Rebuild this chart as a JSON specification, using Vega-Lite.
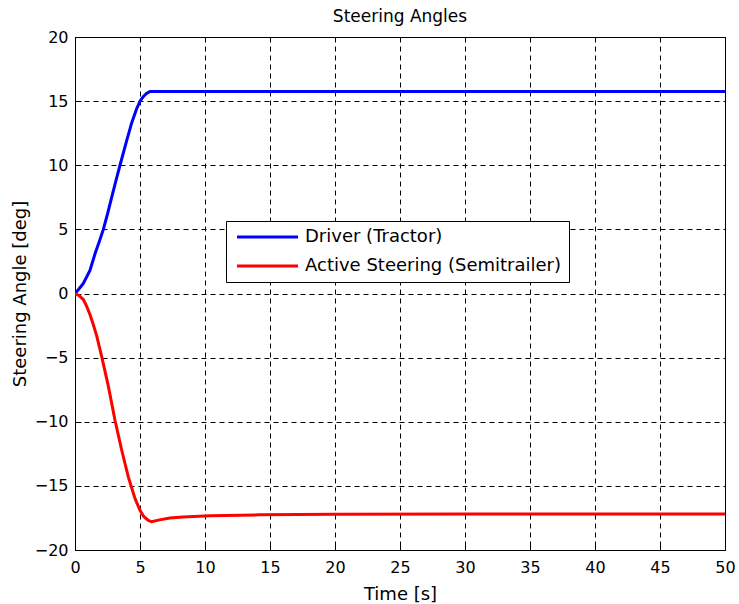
{
  "$schema": "https://vega.github.io/schema/vega-lite/v6.json",
  "autosize": {"type": "none"},
  "padding": {"left": 75, "top": 37, "right": 14, "bottom": 54},
  "width": 650,
  "height": 513,
  "background": "white",
  "title": {
    "text": "Steering Angles",
    "font": "DejaVu Sans",
    "fontSize": 17,
    "fontWeight": "normal",
    "color": "black",
    "offset": 3
  },
  "config": {
    "view": {"stroke": "black", "strokeWidth": 1},
    "axis": {
      "domainColor": "black",
      "domainWidth": 1,
      "grid": true,
      "gridColor": "black",
      "gridOpacity": 1,
      "gridDash": [5, 4],
      "gridWidth": 1,
      "tickColor": "black",
      "tickSize": -6,
      "labelFlush": false,
      "labelFont": "DejaVu Sans",
      "labelFontSize": 16,
      "labelColor": "black",
      "titleFont": "DejaVu Sans",
      "titleFontSize": 18,
      "titleFontWeight": "normal",
      "titleColor": "black"
    }
  },
  "data": {
    "values": [
      {"series": "Driver (Tractor)", "t": 0, "angle": 0},
      {"series": "Driver (Tractor)", "t": 0.3, "angle": 0.35},
      {"series": "Driver (Tractor)", "t": 0.64, "angle": 0.78},
      {"series": "Driver (Tractor)", "t": 1.15, "angle": 1.8},
      {"series": "Driver (Tractor)", "t": 1.54, "angle": 3.1},
      {"series": "Driver (Tractor)", "t": 1.85, "angle": 4.0},
      {"series": "Driver (Tractor)", "t": 2.18, "angle": 5.0},
      {"series": "Driver (Tractor)", "t": 2.5, "angle": 6.2},
      {"series": "Driver (Tractor)", "t": 2.82, "angle": 7.5},
      {"series": "Driver (Tractor)", "t": 3.15, "angle": 8.8},
      {"series": "Driver (Tractor)", "t": 3.46, "angle": 10.0},
      {"series": "Driver (Tractor)", "t": 3.97, "angle": 11.9},
      {"series": "Driver (Tractor)", "t": 4.36, "angle": 13.3},
      {"series": "Driver (Tractor)", "t": 4.74, "angle": 14.4},
      {"series": "Driver (Tractor)", "t": 5.0, "angle": 15.0},
      {"series": "Driver (Tractor)", "t": 5.25, "angle": 15.35},
      {"series": "Driver (Tractor)", "t": 5.5, "angle": 15.6},
      {"series": "Driver (Tractor)", "t": 5.77, "angle": 15.76},
      {"series": "Driver (Tractor)", "t": 10, "angle": 15.76},
      {"series": "Driver (Tractor)", "t": 20, "angle": 15.76},
      {"series": "Driver (Tractor)", "t": 30, "angle": 15.76},
      {"series": "Driver (Tractor)", "t": 40, "angle": 15.76},
      {"series": "Driver (Tractor)", "t": 50, "angle": 15.76},
      {"series": "Active Steering (Semitrailer)", "t": 0, "angle": 0},
      {"series": "Active Steering (Semitrailer)", "t": 0.3, "angle": -0.15},
      {"series": "Active Steering (Semitrailer)", "t": 0.64, "angle": -0.47},
      {"series": "Active Steering (Semitrailer)", "t": 0.9, "angle": -1.0},
      {"series": "Active Steering (Semitrailer)", "t": 1.15, "angle": -1.64},
      {"series": "Active Steering (Semitrailer)", "t": 1.4, "angle": -2.4},
      {"series": "Active Steering (Semitrailer)", "t": 1.67, "angle": -3.3},
      {"series": "Active Steering (Semitrailer)", "t": 2.05, "angle": -4.9},
      {"series": "Active Steering (Semitrailer)", "t": 2.56, "angle": -7.2},
      {"series": "Active Steering (Semitrailer)", "t": 3.08, "angle": -9.9},
      {"series": "Active Steering (Semitrailer)", "t": 3.59, "angle": -12.2},
      {"series": "Active Steering (Semitrailer)", "t": 4.1, "angle": -14.3},
      {"series": "Active Steering (Semitrailer)", "t": 4.62, "angle": -16.0},
      {"series": "Active Steering (Semitrailer)", "t": 5.0, "angle": -16.9},
      {"series": "Active Steering (Semitrailer)", "t": 5.3, "angle": -17.4},
      {"series": "Active Steering (Semitrailer)", "t": 5.64, "angle": -17.7},
      {"series": "Active Steering (Semitrailer)", "t": 5.9, "angle": -17.8},
      {"series": "Active Steering (Semitrailer)", "t": 6.5, "angle": -17.65},
      {"series": "Active Steering (Semitrailer)", "t": 7.3, "angle": -17.5},
      {"series": "Active Steering (Semitrailer)", "t": 8.3, "angle": -17.42},
      {"series": "Active Steering (Semitrailer)", "t": 10.4, "angle": -17.33},
      {"series": "Active Steering (Semitrailer)", "t": 14.2, "angle": -17.26},
      {"series": "Active Steering (Semitrailer)", "t": 20, "angle": -17.22},
      {"series": "Active Steering (Semitrailer)", "t": 30, "angle": -17.2},
      {"series": "Active Steering (Semitrailer)", "t": 40, "angle": -17.2},
      {"series": "Active Steering (Semitrailer)", "t": 50, "angle": -17.2}
    ]
  },
  "mark": {"type": "line", "strokeWidth": 3, "clip": true},
  "encoding": {
    "x": {
      "field": "t",
      "type": "quantitative",
      "scale": {"domain": [0, 50], "nice": false, "zero": false},
      "axis": {
        "title": "Time [s]",
        "values": [0, 5, 10, 15, 20, 25, 30, 35, 40, 45, 50],
        "labelPadding": 15,
        "titlePadding": 10
      }
    },
    "y": {
      "field": "angle",
      "type": "quantitative",
      "scale": {"domain": [-20, 20], "nice": false, "zero": false},
      "axis": {
        "title": "Steering Angle [deg]",
        "values": [-20, -15, -10, -5, 0, 5, 10, 15, 20],
        "labelPadding": 13,
        "titlePadding": 5
      }
    },
    "color": {
      "field": "series",
      "type": "nominal",
      "sort": ["Driver (Tractor)", "Active Steering (Semitrailer)"],
      "scale": {
        "domain": ["Driver (Tractor)", "Active Steering (Semitrailer)"],
        "range": ["#0000ff", "#ff0000"]
      },
      "legend": {
        "title": null,
        "orient": "none",
        "legendX": 151,
        "legendY": 184,
        "direction": "vertical",
        "fillColor": "white",
        "strokeColor": "black",
        "padding": 7,
        "symbolType": "M-1,0H11.2",
        "symbolSize": 100,
        "symbolStrokeWidth": 3,
        "symbolFillColor": "transparent",
        "labelFont": "DejaVu Sans",
        "labelFontSize": 18,
        "labelColor": "black",
        "labelLimit": 400,
        "labelOffset": 54,
        "rowPadding": 11
      }
    }
  }
}
